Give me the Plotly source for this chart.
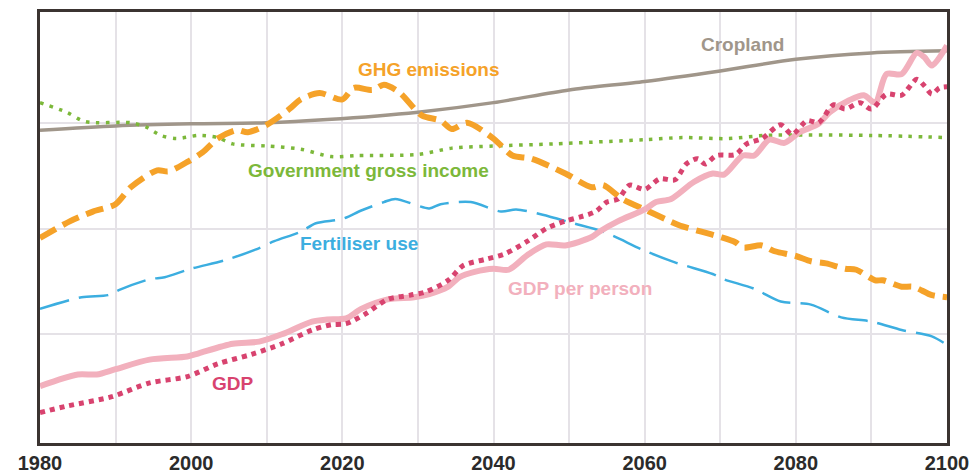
import plotly.graph_objects as go

# ---------------- data (index units) ----------------
crop_years = [1980, 1990, 2000, 2010, 2018, 2030, 2040, 2050, 2060, 2070, 2080, 2090, 2100]
crop_vals = [2.93, 2.97, 2.99, 3.00, 3.03, 3.10, 3.19, 3.31, 3.39, 3.49, 3.60, 3.66, 3.68]

ghg_years = [1980, 1984, 1987, 1990, 1992, 1995.5, 1997, 1999.5, 2001.5, 2003.5, 2006, 2007.5,
             2010, 2013, 2014.5, 2017, 2020, 2021.5, 2024, 2025.5, 2027.5, 2030.5, 2033, 2034.5,
             2036.5, 2040, 2042.5, 2045, 2049.5, 2053, 2054.5, 2057, 2060, 2063, 2065, 2067.5,
             2070, 2072, 2073, 2075.5, 2077, 2080, 2082, 2084, 2086.5, 2088, 2090.5, 2091.5,
             2094, 2095.5, 2098, 2100]
ghg_vals = [1.91, 2.07, 2.16, 2.23, 2.39, 2.55, 2.54, 2.63, 2.72, 2.85, 2.93, 2.91,
            2.98, 3.13, 3.22, 3.28, 3.22, 3.33, 3.31, 3.36, 3.29, 3.07, 3.02, 2.94,
            3.00, 2.85, 2.69, 2.66, 2.52, 2.39, 2.41, 2.28, 2.18, 2.08, 2.02, 1.97,
            1.92, 1.87, 1.82, 1.84, 1.79, 1.74, 1.69, 1.67, 1.62, 1.61, 1.51, 1.51,
            1.45, 1.45, 1.37, 1.35]

gov_years = [1980, 1983.5, 1986, 1992, 1994, 1996, 1998, 2001, 2003.5, 2005.5, 2010, 2014.5,
             2018.5, 2022, 2030, 2034.5, 2040, 2048, 2060, 2065, 2071, 2076, 2090, 2100]
gov_vals = [3.19, 3.10, 3.01, 3.00, 2.96, 2.88, 2.85, 2.88, 2.86, 2.80, 2.78, 2.75,
            2.68, 2.69, 2.70, 2.76, 2.78, 2.80, 2.84, 2.86, 2.85, 2.88, 2.88, 2.86]

fert_years = [1980, 1985.5, 1989, 1990.5, 1994.5, 1996.5, 2000, 2004.5, 2008.5, 2011, 2014.5,
              2016.5, 2020, 2022.5, 2025.5, 2027, 2031.5, 2033, 2037, 2041, 2043, 2046.5,
              2050.5, 2054.5, 2060, 2064, 2069, 2070.5, 2074.5, 2078, 2082, 2086, 2090,
              2094, 2098, 2100]
fert_vals = [1.24, 1.35, 1.37, 1.42, 1.52, 1.54, 1.62, 1.70, 1.80, 1.88, 1.97,
             2.05, 2.09, 2.17, 2.25, 2.28, 2.19, 2.23, 2.25, 2.16, 2.18, 2.13,
             2.05, 1.97, 1.79, 1.68, 1.57, 1.52, 1.43, 1.31, 1.28, 1.16, 1.12,
             1.04, 0.98, 0.90]

gdppp_years = [1980, 1985, 1987.5, 1990, 1994.5, 1999.5, 2001, 2005.5, 2009, 2012, 2016, 2018,
               2020.5, 2022.5, 2026, 2029.5, 2031.5, 2034, 2035.5, 2037.5, 2040, 2042, 2044.5,
               2047, 2049.5, 2053, 2054, 2056.5, 2060, 2061.5, 2063.5, 2066.5, 2069, 2070.5,
               2073, 2074.5, 2076.5, 2078.5, 2080.5, 2083, 2084.5, 2087, 2089, 2090.5, 2092,
               2094, 2096, 2097, 2098, 2100]
gdppp_vals = [0.51, 0.62, 0.62, 0.67, 0.76, 0.79, 0.82, 0.91, 0.93, 1.00, 1.12, 1.14,
              1.15, 1.24, 1.33, 1.35, 1.38, 1.45, 1.54, 1.59, 1.62, 1.61, 1.75,
              1.85, 1.84, 1.92, 1.97, 2.07, 2.18, 2.25, 2.28, 2.44, 2.52, 2.51,
              2.69, 2.69, 2.84, 2.81, 2.91, 2.99, 3.10, 3.21, 3.26, 3.19, 3.46,
              3.46, 3.66, 3.62, 3.54, 3.73]

gdp_years = [1980, 1983.5, 1989.5, 1994.5, 1999.5, 2003.5, 2008, 2012, 2016, 2018.5, 2020.5,
             2023, 2026, 2029, 2031, 2034, 2036, 2039, 2041.5, 2044.5, 2047, 2049.5, 2051.5,
             2053.5, 2055, 2056.5, 2058, 2060, 2062, 2064, 2065.5, 2067, 2068, 2069.5, 2072,
             2073.5, 2075.5, 2078, 2079.5, 2081.5, 2083, 2085, 2086.5, 2088.5, 2090, 2092,
             2094, 2096, 2097, 2098, 2099, 2100]
gdp_vals = [0.26, 0.32, 0.41, 0.54, 0.60, 0.72, 0.81, 0.91, 1.04, 1.09, 1.10,
            1.19, 1.33, 1.37, 1.40, 1.51, 1.65, 1.71, 1.76, 1.88, 2.00, 2.07, 2.11,
            2.16, 2.25, 2.28, 2.41, 2.37, 2.47, 2.46, 2.61, 2.66, 2.61, 2.69, 2.70,
            2.80, 2.85, 2.98, 2.89, 3.02, 3.00, 3.17, 3.13, 3.19, 3.13, 3.27,
            3.26, 3.41, 3.35, 3.27, 3.33, 3.34]

tick_years = [1980, 2000, 2020, 2040, 2060, 2080, 2100]
tick_labels = ["1980", "2000", "2020", "2040", "2060", "2080", "2100"]

# ---------------- styling ----------------
GRAY = "#a0968a"
ORANGE = "#f5a229"
GREEN = "#7cb83a"
BLUE = "#3caee0"
PINK = "#f2b0bd"
CRIMSON = "#d8436f"
FRAME = "#3b3431"
FONT = "Liberation Sans, Arial, sans-serif"

fig = go.Figure()

def add(x, y, color, width, dash, smooth=0.8):
    fig.add_trace(go.Scatter(x=x, y=y, mode="lines",
                             line=dict(color=color, width=width, dash=dash,
                                       shape="spline", smoothing=smooth),
                             hoverinfo="skip", showlegend=False))

add(crop_years, crop_vals, GRAY, 3.5, "solid")
add(fert_years, fert_vals, BLUE, 2.5, "30px,10px")
add(gov_years, gov_vals, GREEN, 3.5, "3.5px,6.5px")
add(ghg_years, ghg_vals, ORANGE, 6, "18px,8px")
add(gdppp_years, gdppp_vals, PINK, 6, "solid")
add(gdp_years, gdp_vals, CRIMSON, 5, "5px,5px")

labels = [
    ("Cropland", 2072.9, 3.74, GRAY),
    ("GHG emissions", 2031.5, 3.50, ORANGE),
    ("Government gross income", 2023.4, 2.55, GREEN),
    ("Fertiliser use", 2022.2, 1.86, BLUE),
    ("GDP per person", 2051.4, 1.43, PINK),
    ("GDP", 2005.5, 0.53, CRIMSON),
]
for text, x, y, c in labels:
    fig.add_annotation(x=x, y=y, xref="x", yref="y", text=text, showarrow=False,
                       font=dict(family=FONT, size=19, color=c, weight="bold"),
                       xanchor="center", yanchor="middle")

fig.update_layout(
    width=969, height=468,
    margin=dict(l=32, r=30, t=1, b=33),
    plot_bgcolor="white", paper_bgcolor="white",
    xaxis=dict(range=[1980, 2100], tickvals=tick_years, ticktext=tick_labels,
               showgrid=True, gridcolor="#e5e2e7", gridwidth=1.5,
               minor=dict(dtick=10, tick0=1980, showgrid=True, gridcolor="#e5e2e7", gridwidth=1.5),
               showline=True, linecolor=FRAME, linewidth=2.5, mirror=True,
               zeroline=False, ticks="",
               tickfont=dict(family=FONT, size=20, color="#2b2b2b", weight="bold")),
    yaxis=dict(range=[-0.028, 4.047], tickvals=[1, 2, 3], showticklabels=False,
               showgrid=True, gridcolor="#e5e2e7", gridwidth=1.5,
               showline=True, linecolor=FRAME, linewidth=2.5, mirror=True,
               zeroline=False, ticks=""),
)

fig.write_html("out.html")
